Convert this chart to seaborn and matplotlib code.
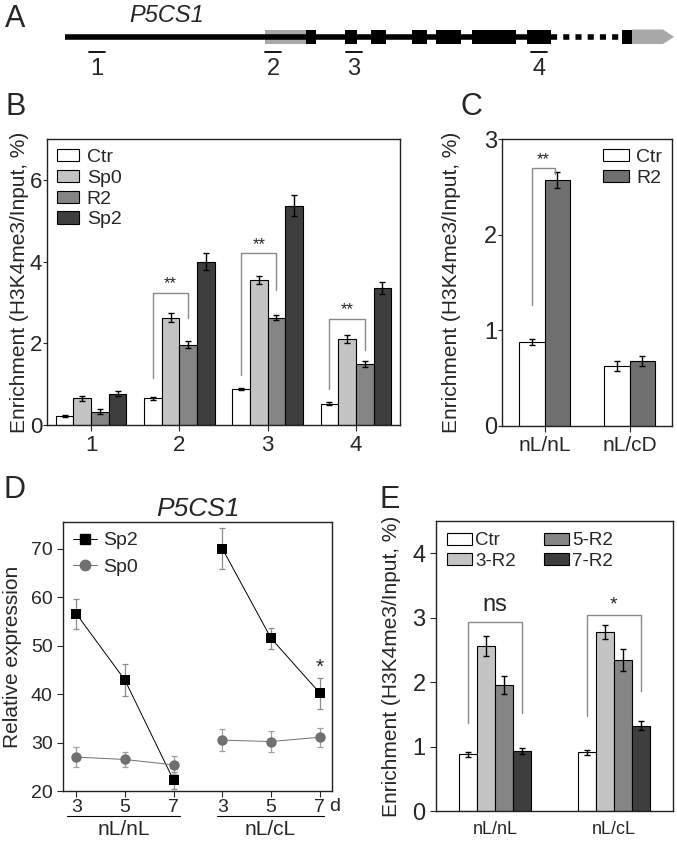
import numpy as np
import pandas as pd
import seaborn as sns
import matplotlib.pyplot as plt
import matplotlib.transforms as mtransforms
from matplotlib.patches import Rectangle, Polygon, Patch
from matplotlib.lines import Line2D

# ---- panel A: gene model (positions along the strip, in px) ----
gene_span = [65, 551]
utr5 = [265, 306]
exons = [[306, 316], [345, 357], [371, 386], [412, 427], [436, 461], [472, 516], [527, 551]]
gap_span = [551, 620]
last_exon = [622, 632]
utr3 = [632, 663, 674]
amplicons = ["1", "2", "3", "4"]
amplicon_pos = [97, 273, 354, 539]

# ---- panel B ----
regions = ["1", "2", "3", "4"]
b_treat = ["Ctr", "Sp0", "R2", "Sp2"]
b_ctr = [0.22, 0.65, 0.88, 0.52]
b_sp0 = [0.65, 2.63, 3.55, 2.10]
b_r2 = [0.33, 1.97, 2.63, 1.50]
b_sp2 = [0.77, 4.00, 5.37, 3.35]
b_ctr_err = [0.02, 0.03, 0.03, 0.04]
b_sp0_err = [0.06, 0.12, 0.10, 0.10]
b_r2_err = [0.05, 0.08, 0.07, 0.07]
b_sp2_err = [0.07, 0.20, 0.25, 0.15]
# brackets: region index, left foot, top, right foot
b_brackets = [[1, 1.15, 3.23, 2.62], [2, 1.22, 4.20, 3.30], [3, 0.88, 2.60, 1.84]]

# ---- panel C ----
c_cond = ["nL/nL", "nL/cD"]
c_treat = ["Ctr", "R2"]
c_ctr = [0.88, 0.63]
c_r2 = [2.57, 0.68]
c_ctr_err = [0.03, 0.05]
c_r2_err = [0.08, 0.05]

# ---- panel D ----
d_days = ["3", "5", "7", "3", "5", "7"]
d_cond = ["nL/nL", "nL/nL", "nL/nL", "nL/cL", "nL/cL", "nL/cL"]
d_sp2 = [56.6, 42.9, 22.2, 70.0, 51.5, 40.2]
d_sp2_err = [3.1, 3.2, 1.7, 4.3, 2.2, 3.2]
d_sp0 = [27.0, 26.5, 25.4, 30.5, 30.2, 31.1]
d_sp0_err = [2.0, 1.5, 1.8, 2.2, 2.1, 2.0]

# ---- panel E ----
e_cond = ["nL/nL", "nL/cL"]
e_treat = ["Ctr", "3-R2", "5-R2", "7-R2"]
e_ctr = [0.88, 0.91]
e_3r2 = [2.56, 2.78]
e_5r2 = [1.95, 2.35]
e_7r2 = [0.935, 1.32]
e_ctr_err = [0.04, 0.04]
e_3r2_err = [0.16, 0.11]
e_5r2_err = [0.14, 0.17]
e_7r2_err = [0.05, 0.07]
e_brackets = [[0, 1.37, 2.94, 1.52, "ns"], [1, 1.47, 3.04, 1.86, "*"]]

grey4 = ["white", "#c4c4c4", "#858585", "#3e3e3e"]

sns.set_style("ticks")
plt.rcParams["font.family"] = ["Liberation Sans", "DejaVu Sans"]
plt.rcParams["axes.linewidth"] = 1.0
plt.rcParams["axes.edgecolor"] = "#222222"
plt.rcParams["xtick.major.size"] = 4
plt.rcParams["ytick.major.size"] = 4

W, H = 677, 841
fig = plt.figure(figsize=(W / 100, H / 100), dpi=100)


def box(x0, y0, x1, y1):
    # pixel box (top-left origin) -> figure fraction rect
    return [x0 / W, 1 - y1 / H, (x1 - x0) / W, (y1 - y0) / H]


def grouped_bars(ax, cats, treats, vals, errs, colors, width):
    df = pd.DataFrame({
        "cat": np.repeat([cats], len(treats), axis=0).ravel(),
        "treat": np.repeat(treats, len(cats)),
        "val": np.concatenate(vals),
    })
    sns.barplot(data=df, x="cat", y="val", hue="treat", hue_order=treats,
                palette=colors, edgecolor="black", linewidth=0.8,
                errorbar=None, width=width, legend=False, ax=ax)
    centers = []
    for cont, err in zip(ax.containers, errs):
        xs = [b.get_x() + b.get_width() / 2 for b in cont]
        ys = [b.get_height() for b in cont]
        ax.errorbar(xs, ys, yerr=err, fmt="none", ecolor="black",
                    elinewidth=1, capsize=2.5, capthick=1)
        centers.append(xs)
    return centers


def bracket(ax, xl, xr, yl, ytop, yr, text, size, dy):
    ax.plot([xl, xl, xr, xr], [yl, ytop, ytop, yr], color="#8a8a8a", lw=1)
    ax.text((xl + xr) / 2, ytop + dy, text, ha="center", va="center", fontsize=size)


def legend_patches(labels, colors):
    return [Patch(facecolor=c, edgecolor="black", linewidth=0.8, label=l)
            for l, c in zip(labels, colors)]


# ---------------- A ----------------
axA = fig.add_axes([0, 1 - 125 / H, 1, 125 / H])
axA.set_xlim(0, W)
axA.set_ylim(125, 0)
axA.axis("off")
axA.plot(gene_span, [37, 37], color="black", lw=4, solid_capstyle="butt")
axA.plot(gap_span, [37, 37], color="black", lw=4, linestyle=(0, (1.1, 1.1)))
axA.add_patch(Rectangle((utr5[0], 29.5), utr5[1] - utr5[0], 14.5, color="#a8a8a8", lw=0))
for s, e in exons + [last_exon]:
    axA.add_patch(Rectangle((s, 29.5), e - s, 14.5, color="black", lw=0))
axA.add_patch(Polygon([[utr3[0], 29.5], [utr3[1], 29.5], [utr3[2], 36.8],
                       [utr3[1], 44], [utr3[0], 44]], closed=True, color="#a8a8a8", lw=0))
for lab, x in zip(amplicons, amplicon_pos):
    axA.plot([x - 8, x + 8], [52, 52], color="black", lw=1.3)
    axA.text(x, 69, lab, ha="center", va="center", fontsize=17)
axA.text(167, 15, "P5CS1", ha="center", va="center", fontsize=17, style="italic")

# panel letters
for lab, x, y in [("A", 5, 19), ("B", 5, 107), ("C", 461, 107), ("D", 3, 490), ("E", 380, 500)]:
    fig.text(x / W, 1 - y / H, lab, fontsize=22, ha="left", va="center")

# ---------------- B ----------------
axB = fig.add_axes(box(47, 139, 400, 425))
cB = grouped_bars(axB, regions, b_treat, [b_ctr, b_sp0, b_r2, b_sp2],
                  [b_ctr_err, b_sp0_err, b_r2_err, b_sp2_err], grey4, 0.8)
axB.set_xlim(-0.5, 3.5)
axB.set_ylim(0, 7)
axB.set_yticks([0, 2, 4, 6])
axB.tick_params(labelsize=16)
axB.tick_params(axis="y", length=3, pad=0.5)
axB.set_xlabel("")
axB.set_ylabel("Enrichment (H3K4me3/Input, %)", fontsize=15)
axB.yaxis.set_label_coords(-0.05, 0.5)
for i, yl, yt, yr in b_brackets:
    bracket(axB, cB[0][i], cB[2][i], yl, yt, yr, "**", 12, 0.22)
axB.legend(handles=legend_patches(b_treat, grey4), loc="upper left", frameon=False,
           fontsize=14, handlelength=1.15, handleheight=0.6, handletextpad=0.4,
           labelspacing=0.2, borderaxespad=0.2, borderpad=0.3)

# ---------------- C ----------------
axC = fig.add_axes(box(502, 139, 672, 426))
cC = grouped_bars(axC, c_cond, c_treat, [c_ctr, c_r2], [c_ctr_err, c_r2_err],
                  ["white", "#707070"], 0.61)
axC.set_xlim(-0.5, 1.5)
axC.set_ylim(0, 3)
axC.set_yticks([0, 1, 2, 3])
axC.tick_params(axis="y", labelsize=17, length=3, pad=0.5)
axC.tick_params(axis="x", labelsize=15)
axC.set_xlabel("")
axC.set_ylabel("Enrichment (H3K4me3/Input, %)", fontsize=15)
axC.yaxis.set_label_coords(-0.241, 0.5)
bracket(axC, cC[0][0], cC[1][0] - 0.03, 1.26, 2.70, 2.63, "**", 12, 0.08)
axC.legend(handles=legend_patches(c_treat, ["white", "#707070"]), loc="upper right",
           frameon=False, fontsize=14, handlelength=1.3, handleheight=0.6,
           handletextpad=0.4, labelspacing=0.2, borderaxespad=0.2, borderpad=0.3)

# ---------------- D ----------------
axD = fig.add_axes(box(63, 522, 332, 791))
pos = np.arange(len(d_days))
dfD = pd.DataFrame({
    "pos": np.concatenate([pos, pos]),
    "val": d_sp2 + d_sp0,
    "series": ["Sp2"] * len(pos) + ["Sp0"] * len(pos),
    "cond": d_cond + d_cond,
})
axD.errorbar(pos, d_sp2, yerr=d_sp2_err, fmt="none", ecolor="#8c8c8c",
             elinewidth=0.9, capsize=2.5, capthick=0.9, zorder=1)
axD.errorbar(pos, d_sp0, yerr=d_sp0_err, fmt="none", ecolor="#a0a0a0",
             elinewidth=0.9, capsize=2.5, capthick=0.9, zorder=1)
sns.lineplot(data=dfD, x="pos", y="val", hue="series", style="series", units="cond",
             estimator=None, palette={"Sp2": "black", "Sp0": "#707070"},
             markers={"Sp2": "s", "Sp0": "o"}, dashes=False, markersize=7.5,
             markeredgewidth=0, linewidth=0.7, legend=False, ax=axD, zorder=3)
axD.set_xlim(-0.27, 5.25)
axD.set_ylim(20, 75.5)
axD.set_yticks([20, 30, 40, 50, 60, 70])
axD.set_xticks(pos)
axD.set_xticklabels(d_days)
axD.tick_params(labelsize=14)
axD.tick_params(axis="x", pad=2)
axD.set_xlabel("")
axD.set_ylabel("Relative expression", fontsize=15)
axD.yaxis.set_label_coords(-0.152, 0.5)
axD.set_title("P5CS1", fontsize=19, style="italic", pad=4)
axD.text(5, d_sp2[5] + d_sp2_err[5] + 2.2, "*", ha="center", va="center", fontsize=15)
tD = mtransforms.blended_transform_factory(axD.transData, axD.transAxes)
axD.text(5.2, -0.056, "d", transform=tD, ha="left", va="center", fontsize=14)
for lo, hi, lab in [(-0.18, 2.13, "nL/nL"), (2.89, 5.08, "nL/cL")]:
    axD.plot([lo, hi], [-0.093, -0.093], transform=tD, color="black", lw=0.8, clip_on=False)
    axD.text((lo + hi) / 2, -0.143, lab, transform=tD, ha="center", va="center", fontsize=15)
hD = [Line2D([], [], color="black", marker="s", markersize=7, lw=0.7, label="Sp2"),
      Line2D([], [], color="#707070", marker="o", markersize=7.5, lw=0.7, label="Sp0")]
axD.legend(handles=hD, loc="upper left", frameon=False, fontsize=14, handlelength=1.25,
           handletextpad=0.3, labelspacing=0.45, borderaxespad=0.3, borderpad=0.2)

# ---------------- E ----------------
axE = fig.add_axes(box(436, 521, 673, 811))
cE = grouped_bars(axE, e_cond, e_treat, [e_ctr, e_3r2, e_5r2, e_7r2],
                  [e_ctr_err, e_3r2_err, e_5r2_err, e_7r2_err], grey4, 0.61)
axE.set_xlim(-0.5, 1.5)
axE.set_ylim(0, 4.5)
axE.set_yticks([0, 1, 2, 3, 4])
axE.tick_params(axis="y", labelsize=17)
axE.tick_params(axis="x", labelsize=13, length=0, pad=7)
axE.set_xlabel("")
axE.set_ylabel("Enrichment (H3K4me3/Input, %)", fontsize=15)
axE.yaxis.set_label_coords(-0.148, 0.5)
for i, yl, yt, yr, lab in e_brackets:
    bracket(axE, cE[0][i], cE[3][i], yl, yt, yr, lab, 17 if lab == "ns" else 14,
            0.25 if lab == "ns" else 0.15)
axE.legend(handles=legend_patches(e_treat, grey4), loc="upper left", ncol=2,
           frameon=False, fontsize=13.5, handlelength=1.3, handleheight=0.6,
           handletextpad=0.2, labelspacing=0.2, columnspacing=1.5,
           borderaxespad=0.3, borderpad=0.3)

fig.savefig("out.png", dpi=100)
